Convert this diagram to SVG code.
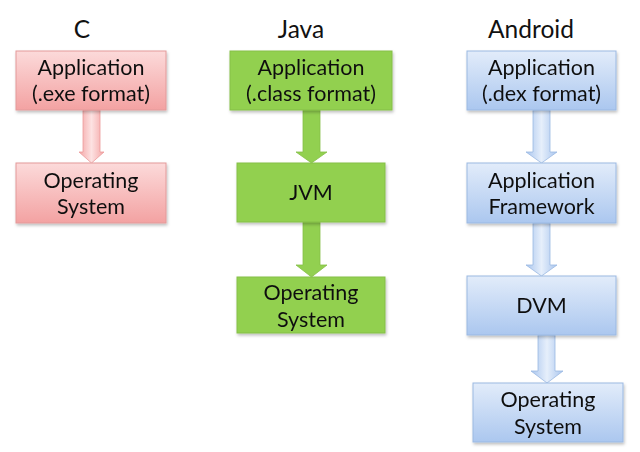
<svg xmlns="http://www.w3.org/2000/svg" width="640" height="452" viewBox="0 0 640 452">
<defs>
<linearGradient id="gPink" x1="0" y1="0" x2="0" y2="1"><stop offset="0" stop-color="#fcdada"/><stop offset="1" stop-color="#f3a2a2"/></linearGradient>
<linearGradient id="gBlue" x1="0" y1="0" x2="0" y2="1"><stop offset="0" stop-color="#e2ecfa"/><stop offset="1" stop-color="#abc7ef"/></linearGradient>
<linearGradient id="aPink" x1="0" y1="0" x2="1" y2="0"><stop offset="0" stop-color="#f4a6a6"/><stop offset="0.5" stop-color="#fde2e2"/><stop offset="1" stop-color="#f4a6a6"/></linearGradient>
<linearGradient id="aBlue" x1="0" y1="0" x2="1" y2="0"><stop offset="0" stop-color="#a9c5ee"/><stop offset="0.5" stop-color="#e6effb"/><stop offset="1" stop-color="#a9c5ee"/></linearGradient>
<filter id="sh" x="-10%" y="-10%" width="130%" height="130%"><feDropShadow dx="1" dy="2" stdDeviation="1.5" flood-color="#000" flood-opacity="0.25"/></filter>
</defs>
<style>
text{font-family:Lato,"Liberation Sans",sans-serif;fill:#111;text-anchor:middle}
.t{font-size:24.5px}
.b{font-size:21.5px}
.pink{fill:url(#gPink);stroke:#e39a9a;stroke-width:1}
.green{fill:#92d050;stroke:#85bf48;stroke-width:1}
.blue{fill:url(#gBlue);stroke:#9bb9e2;stroke-width:1}
.ap{fill:url(#aPink);stroke:#ec9a9a;stroke-width:0.8}
.ag{fill:#92d050;stroke:#85bf48;stroke-width:0.8}
.ab{fill:url(#aBlue);stroke:#9bb9e2;stroke-width:0.8}
</style>
<rect width="640" height="452" fill="#fff"/>
<text class="t" x="82" y="38">C</text>
<text class="t" x="301" y="38">Java</text>
<text class="t" x="531" y="38">Android</text>
<g id="connectors">
<path class="ap" d="M83,110 H100 V152 H104 L91.5,163 L79,152 H83 Z"/>
<path class="ag" d="M303,110 H320 V152 H327 L311.5,163 L296,152 H303 Z"/>
<path class="ag" d="M303,222 H320 V265 H327 L311.5,277 L296,265 H303 Z"/>
<path class="ab" d="M533,110 H550 V152 H557 L541.5,163 L526,152 H533 Z"/>
<path class="ab" d="M533,223 H550 V265 H557 L541.5,276 L526,265 H533 Z"/>
<path class="ab" d="M538,335 H555 V371 H563 L547,383 L531,371 H538 Z"/>
</g>
<g id="c_app" filter="url(#sh)"><rect class="pink" x="16" y="51" width="150" height="59"/><text class="b" x="91" y="75">Application</text><text class="b" x="91" y="101">(.exe format)</text></g>
<g id="c_os" filter="url(#sh)"><rect class="pink" x="16" y="163" width="150" height="60"/><text class="b" x="91" y="188">Operating</text><text class="b" x="91" y="214">System</text></g>
<g id="j_app" filter="url(#sh)"><rect class="green" x="230" y="51" width="162" height="59"/><text class="b" x="311" y="75">Application</text><text class="b" x="311" y="101">(.class format)</text></g>
<g id="j_jvm" filter="url(#sh)"><rect class="green" x="237" y="163" width="148" height="59"/><text class="b" x="311" y="200">JVM</text></g>
<g id="j_os" filter="url(#sh)"><rect class="green" x="237" y="277" width="148" height="56"/><text class="b" x="311" y="300">Operating</text><text class="b" x="311" y="327">System</text></g>
<g id="a_app" filter="url(#sh)"><rect class="blue" x="467" y="51" width="149" height="59"/><text class="b" x="541.5" y="75">Application</text><text class="b" x="541.5" y="101">(.dex format)</text></g>
<g id="a_fw" filter="url(#sh)"><rect class="blue" x="467" y="163" width="149" height="60"/><text class="b" x="541.5" y="188">Application</text><text class="b" x="541.5" y="214">Framework</text></g>
<g id="a_dvm" filter="url(#sh)"><rect class="blue" x="467" y="276" width="149" height="59"/><text class="b" x="541.5" y="313">DVM</text></g>
<g id="a_os" filter="url(#sh)"><rect class="blue" x="473" y="383" width="150" height="59"/><text class="b" x="548" y="407">Operating</text><text class="b" x="548" y="434">System</text></g>
</svg>
